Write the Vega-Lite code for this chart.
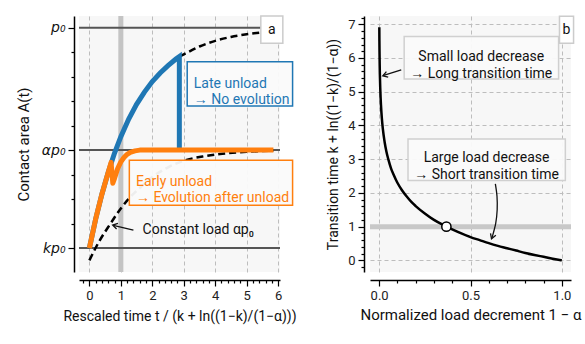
{
  "$schema": "https://vega.github.io/schema/vega-lite/v6.json",
  "padding": {"left": 16, "top": 11, "right": 5, "bottom": 5},
  "bounds": "flush",
  "spacing": 90,
  "config": {
    "font": "Roboto",
    "view": {"fill": "#f7f7f7", "stroke": null},
    "axis": {
      "domainColor": "#000", "domainWidth": 1.5, "tickColor": "#000", "tickWidth": 1.2,
      "labelColor": "#222", "labelFontSize": 13, "titleFontSize": 15, "titleFontWeight": "normal",
      "labelFont": "Roboto", "titleFont": "Roboto", "titleColor": "#111",
      "labelOverlap": false, "labelFlush": false, "labelPadding": 3, "tickCount": 200
    },
    "text": {"font": "Roboto"}
  },
  "hconcat": [
    {
      "width": 201,
      "height": 256,
      "layer": [
        {
          "data": {"values": [{"x": 1}]},
          "mark": {"type": "rule", "color": "#c4c4c4", "strokeWidth": 5},
          "encoding": {
            "x": {"field": "x", "type": "quantitative",
              "scale": {"domain": [-0.33, 6.06], "nice": false, "zero": false},
              "axis": {
                "title": "Rescaled time t / (k + ln((1−k)/(1−α)))",
                "titleFontSize": 14,
                "offset": 8,
                "tickCount": 200,
                "labelOverlap": false,
                "values": [-0.2,0,0.2,0.4,0.6,0.8,1,1.2,1.4,1.6,1.8,2,2.2,2.4,2.6,2.8,3,3.2,3.4,3.6,3.8,4,4.2,4.4,4.6,4.8,5,5.2,5.4,5.6,5.8,6],
                "labelExpr": "abs(datum.value-round(datum.value))<0.01 ? format(round(datum.value),'d') : ''",
                "tickSize": {"condition": {"test": "abs(datum.value-round(datum.value))<0.01", "value": 6}, "value": 3},
                "grid": true,
                "gridOpacity": {"condition": {"test": "abs(datum.value-round(datum.value))<0.01 && datum.value>-0.1", "value": 1}, "value": 0},
                "gridDash": [4, 3], "gridColor": "#bdbdbd", "gridWidth": 1,
                "titlePadding": 7
              }
            }
          }
        },
        {
          "data": {"values": [{"y": 1}, {"y": 0.5}, {"y": 0.1}]},
          "mark": {"type": "rule", "color": "#555555", "strokeWidth": 2},
          "encoding": {
            "y": {"field": "y", "type": "quantitative",
              "scale": {"domain": [0.0025, 1.0475], "nice": false, "zero": false},
              "axis": {
                "title": "Contact area A(t)",
                "offset": 5,
                "grid": false,
                "tickCount": 200,
                "labelOverlap": false,
                "values": [0.1,0.2,0.3,0.4,0.5,0.6,0.7,0.8,0.9,1.0],
                "labelExpr": "abs(datum.value-1)<0.01 ? 'p₀' : abs(datum.value-0.5)<0.01 ? 'αp₀' : abs(datum.value-0.1)<0.01 ? 'kp₀' : ''",
                "labelFont": "DejaVu Sans", "labelFontStyle": "italic", "labelFontSize": 14, "labelColor": "#111",
                "tickSize": {"condition": {"test": "abs(datum.value-1)<0.01 || abs(datum.value-0.5)<0.01 || abs(datum.value-0.1)<0.01", "value": 6}, "value": 3},
                "titlePadding": 10
              }
            }
          }
        },
        {
          "data": {"values": [
            {"x": 0, "y": 0.05}, {"x": 0.3, "y": 0.125}, {"x": 0.66, "y": 0.198}, {"x": 1.0, "y": 0.262},
            {"x": 1.24, "y": 0.3}, {"x": 1.6, "y": 0.345}, {"x": 2.0, "y": 0.39}, {"x": 2.5, "y": 0.43},
            {"x": 3.09, "y": 0.46}, {"x": 3.6, "y": 0.474}, {"x": 4.15, "y": 0.484}, {"x": 5.0, "y": 0.493}, {"x": 5.85, "y": 0.498}
          ]},
          "mark": {"type": "line", "color": "#000", "strokeWidth": 2.5, "strokeDash": [7, 4], "interpolate": "monotone"},
          "encoding": {"x": {"field": "x", "type": "quantitative"}, "y": {"field": "y", "type": "quantitative"}}
        },
        {
          "data": {"values": [
            {"x": 2.86, "y": 0.882}, {"x": 3.0, "y": 0.891}, {"x": 3.5, "y": 0.923}, {"x": 4.0, "y": 0.946},
            {"x": 4.5, "y": 0.962}, {"x": 5.0, "y": 0.973}, {"x": 5.5, "y": 0.981}, {"x": 6.0, "y": 0.987}
          ]},
          "mark": {"type": "line", "color": "#000", "strokeWidth": 2.5, "strokeDash": [7, 4], "interpolate": "monotone"},
          "encoding": {"x": {"field": "x", "type": "quantitative"}, "y": {"field": "y", "type": "quantitative"}}
        },
        {
          "data": {"values": [
            {"o": 0, "x": 0, "y": 0.1}, {"o": 1, "x": 0.2, "y": 0.219}, {"o": 2, "x": 0.4, "y": 0.321}, {"o": 3, "x": 0.6, "y": 0.41},
            {"o": 4, "x": 0.8, "y": 0.488}, {"o": 5, "x": 1.0, "y": 0.555}, {"o": 6, "x": 1.25, "y": 0.627}, {"o": 7, "x": 1.5, "y": 0.687},
            {"o": 8, "x": 1.75, "y": 0.737}, {"o": 9, "x": 2.0, "y": 0.78}, {"o": 10, "x": 2.25, "y": 0.815}, {"o": 11, "x": 2.5, "y": 0.845},
            {"o": 12, "x": 2.75, "y": 0.872}, {"o": 13, "x": 2.86, "y": 0.882}, {"o": 14, "x": 2.86, "y": 0.5}
          ]},
          "mark": {"type": "line", "color": "#1f77b4", "strokeWidth": 5, "strokeJoin": "miter"},
          "encoding": {"x": {"field": "x", "type": "quantitative"}, "y": {"field": "y", "type": "quantitative"}, "order": {"field": "o"}}
        },
        {
          "data": {"values": [
            {"o": 0, "x": 0, "y": 0.1}, {"o": 1, "x": 0.2, "y": 0.219}, {"o": 2, "x": 0.4, "y": 0.321}, {"o": 3, "x": 0.6, "y": 0.41},
            {"o": 4, "x": 0.69, "y": 0.45}, {"o": 5, "x": 0.745, "y": 0.365}, {"o": 6, "x": 0.8, "y": 0.385}, {"o": 7, "x": 0.9, "y": 0.425},
            {"o": 8, "x": 1.0, "y": 0.452}, {"o": 9, "x": 1.1, "y": 0.47}, {"o": 10, "x": 1.2, "y": 0.483}, {"o": 11, "x": 1.3, "y": 0.491},
            {"o": 12, "x": 1.45, "y": 0.497}, {"o": 13, "x": 1.6, "y": 0.5}, {"o": 14, "x": 5.85, "y": 0.5}
          ]},
          "mark": {"type": "line", "color": "#ff7f0e", "strokeWidth": 5, "strokeJoin": "round"},
          "encoding": {"x": {"field": "x", "type": "quantitative"}, "y": {"field": "y", "type": "quantitative"}, "order": {"field": "o"}}
        },
        {
          "data": {"values": [{"x": 3.11, "x2": 6.46, "y": 0.861, "y2": 0.68}]},
          "mark": {"type": "rect", "fill": "#fafafa", "fillOpacity": 0.95, "stroke": "#1f77b4", "strokeWidth": 1.5},
          "encoding": {"x": {"field": "x", "type": "quantitative"}, "x2": {"field": "x2"}, "y": {"field": "y", "type": "quantitative"}, "y2": {"field": "y2"}}
        },
        {
          "data": {"values": [{"x": 1.27, "x2": 6.46, "y": 0.459, "y2": 0.275}]},
          "mark": {"type": "rect", "fill": "#fafafa", "fillOpacity": 0.95, "stroke": "#ff7f0e", "strokeWidth": 1.5},
          "encoding": {"x": {"field": "x", "type": "quantitative"}, "x2": {"field": "x2"}, "y": {"field": "y", "type": "quantitative"}, "y2": {"field": "y2"}}
        },
        {
          "data": {"values": [{"x": 3.32, "y": 0.771, "t": "Late unload\n → No evolution"}]},
          "mark": {"type": "text", "color": "#1f77b4", "fontSize": 14, "align": "left", "baseline": "middle", "lineBreak": "\n", "lineHeight": 16},
          "encoding": {"x": {"field": "x", "type": "quantitative"}, "y": {"field": "y", "type": "quantitative"}, "text": {"field": "t"}}
        },
        {
          "data": {"values": [{"x": 1.48, "y": 0.371, "t": "Early unload\n → Evolution after unload"}]},
          "mark": {"type": "text", "color": "#ff7f0e", "fontSize": 14, "align": "left", "baseline": "middle", "lineBreak": "\n", "lineHeight": 16},
          "encoding": {"x": {"field": "x", "type": "quantitative"}, "y": {"field": "y", "type": "quantitative"}, "text": {"field": "t"}}
        },
        {
          "data": {"values": [{"x": 1.69, "y": 0.173, "t": "Constant load αp₀"}]},
          "mark": {"type": "text", "color": "#111", "fontSize": 14, "align": "left", "baseline": "middle"},
          "encoding": {"x": {"field": "x", "type": "quantitative"}, "y": {"field": "y", "type": "quantitative"}, "text": {"field": "t"}}
        },
        {
          "data": {"values": [{"x": 1.40, "y": 0.173, "x2": 0.76, "y2": 0.193}]},
          "mark": {"type": "rule", "color": "#111", "strokeWidth": 1.3},
          "encoding": {"x": {"field": "x", "type": "quantitative"}, "y": {"field": "y", "type": "quantitative"}, "x2": {"field": "x2"}, "y2": {"field": "y2"}}
        },
        {
          "data": {"values": [{"x": 0.74, "y": 0.194}]},
          "mark": {"type": "point", "shape": "M-1,-0.6L0,0L-1,0.6", "filled": false, "stroke": "#111", "strokeWidth": 1.3, "size": 90, "angle": 193.6, "opacity": 1},
          "encoding": {"x": {"field": "x", "type": "quantitative"}, "y": {"field": "y", "type": "quantitative"}}
        },
        {
          "data": {"values": [{"x": 5.45, "x2": 6.15, "y": 1.047, "y2": 0.936}]},
          "mark": {"type": "rect", "fill": "#ffffff", "stroke": "#cccccc", "strokeWidth": 1.5},
          "encoding": {"x": {"field": "x", "type": "quantitative"}, "x2": {"field": "x2"}, "y": {"field": "y", "type": "quantitative"}, "y2": {"field": "y2"}}
        },
        {
          "data": {"values": [{"x": 5.8, "y": 0.992, "t": "a"}]},
          "mark": {"type": "text", "color": "#111", "fontSize": 14, "align": "center", "baseline": "middle"},
          "encoding": {"x": {"field": "x", "type": "quantitative"}, "y": {"field": "y", "type": "quantitative"}, "text": {"field": "t"}}
        }
      ]
    },
    {
      "width": 201,
      "height": 256,
      "layer": [
        {
          "data": {"values": [{"y": 1}]},
          "mark": {"type": "rule", "color": "#c8c8c8", "strokeWidth": 5},
          "encoding": {
            "y": {"field": "y", "type": "quantitative",
              "scale": {"domain": [-0.345, 7.245], "nice": false, "zero": false},
              "axis": {
                "title": "Transition time k + ln((1−k)/(1−α))",
                "titleFontSize": 14,
                "offset": 6,
                "tickCount": 200,
                "labelOverlap": false,
                "values": [-0.2,0,0.2,0.4,0.6,0.8,1,1.2,1.4,1.6,1.8,2,2.2,2.4,2.6,2.8,3,3.2,3.4,3.6,3.8,4,4.2,4.4,4.6,4.8,5,5.2,5.4,5.6,5.8,6,6.2,6.4,6.6,6.8,7,7.2],
                "labelExpr": "abs(datum.value-round(datum.value))<0.01 ? format(round(datum.value),'d') : ''",
                "tickSize": {"condition": {"test": "abs(datum.value-round(datum.value))<0.01", "value": 6}, "value": 3},
                "grid": true,
                "gridOpacity": {"condition": {"test": "abs(datum.value-round(datum.value))<0.01 && datum.value>-0.1", "value": 1}, "value": 0},
                "gridDash": [4, 3], "gridColor": "#bdbdbd", "gridWidth": 1,
                "titlePadding": 7
              }
            }
          }
        },
        {
          "data": {"values": [
            {"x": 0.001, "y": 6.91}, {"x": 0.0015, "y": 6.5}, {"x": 0.002, "y": 6.21}, {"x": 0.003, "y": 5.81},
            {"x": 0.004, "y": 5.52}, {"x": 0.006, "y": 5.12}, {"x": 0.008, "y": 4.83}, {"x": 0.01, "y": 4.61},
            {"x": 0.015, "y": 4.2}, {"x": 0.02, "y": 3.91}, {"x": 0.03, "y": 3.51}, {"x": 0.04, "y": 3.22},
            {"x": 0.05, "y": 3.0}, {"x": 0.065, "y": 2.73}, {"x": 0.08, "y": 2.53}, {"x": 0.1, "y": 2.3},
            {"x": 0.125, "y": 2.08}, {"x": 0.15, "y": 1.9}, {"x": 0.175, "y": 1.74}, {"x": 0.2, "y": 1.61},
            {"x": 0.25, "y": 1.39}, {"x": 0.3, "y": 1.2}, {"x": 0.35, "y": 1.05}, {"x": 0.4, "y": 0.92},
            {"x": 0.45, "y": 0.8}, {"x": 0.5, "y": 0.69}, {"x": 0.55, "y": 0.6}, {"x": 0.6, "y": 0.51},
            {"x": 0.65, "y": 0.43}, {"x": 0.7, "y": 0.36}, {"x": 0.75, "y": 0.29}, {"x": 0.8, "y": 0.22},
            {"x": 0.85, "y": 0.16}, {"x": 0.9, "y": 0.105}, {"x": 0.95, "y": 0.05}, {"x": 1.0, "y": 0.0}
          ]},
          "mark": {"type": "line", "color": "#000", "strokeWidth": 2.5, "interpolate": "monotone"},
          "encoding": {
            "x": {"field": "x", "type": "quantitative",
              "scale": {"domain": [-0.05, 1.05], "nice": false, "zero": false},
              "axis": {
                "title": "Normalized load decrement 1 − α",
                "offset": 8,
                "tickCount": 200,
                "labelOverlap": false,
                "values": [0,0.1,0.2,0.3,0.4,0.5,0.6,0.7,0.8,0.9,1.0],
                "labelExpr": "abs(datum.value*2-round(datum.value*2))<0.01 ? format(datum.value,'.1f') : ''",
                "tickSize": {"condition": {"test": "abs(datum.value*2-round(datum.value*2))<0.01", "value": 6}, "value": 3},
                "grid": true,
                "gridOpacity": {"condition": {"test": "abs(datum.value*2-round(datum.value*2))<0.01", "value": 1}, "value": 0},
                "gridDash": [4, 3], "gridColor": "#bdbdbd", "gridWidth": 1,
                "titlePadding": 5
              }
            },
            "y": {"field": "y", "type": "quantitative"}
          }
        },
        {
          "data": {"values": [{"x": 0.368, "y": 1}]},
          "mark": {"type": "point", "shape": "circle", "filled": true, "fill": "#ffffff", "stroke": "#000", "strokeWidth": 1.5, "size": 85, "opacity": 1},
          "encoding": {"x": {"field": "x", "type": "quantitative"}, "y": {"field": "y", "type": "quantitative"}}
        },
        {
          "data": {"values": [{"x": 0.137, "x2": 0.982, "y": 6.64, "y2": 5.376}]},
          "mark": {"type": "rect", "fill": "#fafafa", "fillOpacity": 0.95, "stroke": "#d0d0d0", "strokeWidth": 1.5},
          "encoding": {"x": {"field": "x", "type": "quantitative"}, "x2": {"field": "x2"}, "y": {"field": "y", "type": "quantitative"}, "y2": {"field": "y2"}}
        },
        {
          "data": {"values": [{"x": 0.158, "x2": 1.019, "y": 3.6, "y2": 2.37}]},
          "mark": {"type": "rect", "fill": "#fafafa", "fillOpacity": 0.95, "stroke": "#d0d0d0", "strokeWidth": 1.5},
          "encoding": {"x": {"field": "x", "type": "quantitative"}, "x2": {"field": "x2"}, "y": {"field": "y", "type": "quantitative"}, "y2": {"field": "y2"}}
        },
        {
          "data": {"values": [
            {"x": 0.559, "y": 6.02, "t": "Small load decrease\n→ Long transition time"},
            {"x": 0.588, "y": 3.03, "t": "Large load decrease\n→ Short transition time"}
          ]},
          "mark": {"type": "text", "color": "#111", "fontSize": 14, "align": "center", "baseline": "middle", "lineBreak": "\n", "lineHeight": 16.5},
          "encoding": {"x": {"field": "x", "type": "quantitative"}, "y": {"field": "y", "type": "quantitative"}, "text": {"field": "t"}}
        },
        {
          "data": {"values": [{"x": 0.121, "y": 5.65, "x2": 0.025, "y2": 5.482}]},
          "mark": {"type": "rule", "color": "#111", "strokeWidth": 1.3},
          "encoding": {"x": {"field": "x", "type": "quantitative"}, "y": {"field": "y", "type": "quantitative"}, "x2": {"field": "x2"}, "y2": {"field": "y2"}}
        },
        {
          "data": {"values": [{"x": 0.02, "y": 5.47}]},
          "mark": {"type": "point", "shape": "M-1,-0.6L0,0L-1,0.6", "filled": false, "stroke": "#111", "strokeWidth": 1.3, "size": 90, "angle": 161.7, "opacity": 1},
          "encoding": {"x": {"field": "x", "type": "quantitative"}, "y": {"field": "y", "type": "quantitative"}}
        },
        {
          "data": {"values": [
            {"o": 0, "x": 0.636, "y": 2.27}, {"o": 1, "x": 0.645, "y": 1.9}, {"o": 2, "x": 0.646, "y": 1.5},
            {"o": 3, "x": 0.638, "y": 1.1}, {"o": 4, "x": 0.617, "y": 0.66}
          ]},
          "mark": {"type": "line", "color": "#111", "strokeWidth": 1.3, "interpolate": "cardinal"},
          "encoding": {"x": {"field": "x", "type": "quantitative"}, "y": {"field": "y", "type": "quantitative"}, "order": {"field": "o"}}
        },
        {
          "data": {"values": [{"x": 0.615, "y": 0.64}]},
          "mark": {"type": "point", "shape": "M-1,-0.6L0,0L-1,0.6", "filled": false, "stroke": "#111", "strokeWidth": 1.3, "size": 90, "angle": 110.8, "opacity": 1},
          "encoding": {"x": {"field": "x", "type": "quantitative"}, "y": {"field": "y", "type": "quantitative"}}
        },
        {
          "data": {"values": [{"x": 0.987, "x2": 1.064, "y": 7.24, "y2": 6.44}]},
          "mark": {"type": "rect", "fill": "#ffffff", "stroke": "#cccccc", "strokeWidth": 1.5},
          "encoding": {"x": {"field": "x", "type": "quantitative"}, "x2": {"field": "x2"}, "y": {"field": "y", "type": "quantitative"}, "y2": {"field": "y2"}}
        },
        {
          "data": {"values": [{"x": 1.025, "y": 6.84, "t": "b"}]},
          "mark": {"type": "text", "color": "#111", "fontSize": 14, "align": "center", "baseline": "middle"},
          "encoding": {"x": {"field": "x", "type": "quantitative"}, "y": {"field": "y", "type": "quantitative"}, "text": {"field": "t"}}
        }
      ]
    }
  ]
}
